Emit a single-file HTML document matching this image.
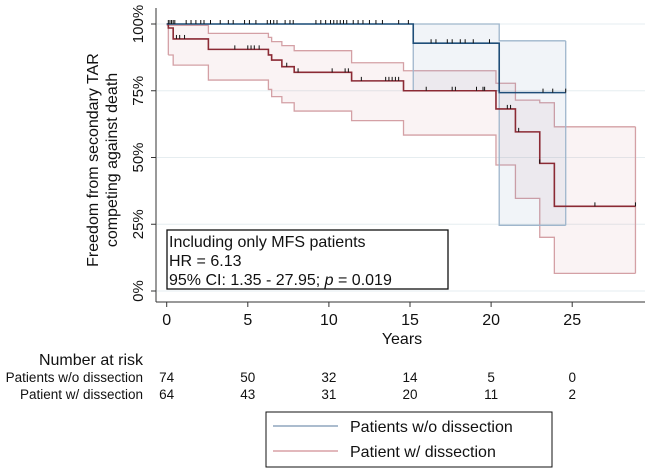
<!DOCTYPE html>
<html><head><meta charset="utf-8">
<style>
body{margin:0;background:#fff;}
svg{display:block;font-family:"Liberation Sans",Arial,sans-serif;}
</style></head>
<body>
<svg id="chart" width="650" height="471" viewBox="0 0 650 471">
<g id="grid"></g>
<g id="bands"></g>
<g id="lines"></g>
<g id="axes"></g>
<text transform="translate(102,160) rotate(-90)" text-anchor="middle" font-size="16" fill="#111"><tspan x="0" dy="-4">Freedom from secondary TAR</tspan><tspan x="0" dy="19">competing against death</tspan></text>
<text x="402" y="344" text-anchor="middle" font-size="16" fill="#111">Years</text>
<g>
<rect x="167" y="230" width="281" height="59" fill="#fff" stroke="#111" stroke-width="1.3"/>
<text x="169" y="247" font-size="16" fill="#111">Including only MFS patients</text>
<text x="169" y="266" font-size="16" fill="#111">HR = 6.13</text>
<text x="169" y="285" font-size="16" fill="#111">95% CI: 1.35 - 27.95; <tspan font-style="italic">p</tspan> = 0.019</text>
</g>
<text x="143" y="365" text-anchor="end" font-size="16" fill="#111">Number at risk</text>
<g id="risk"></g>
<g>
<rect x="266" y="412" width="286" height="55" fill="#fff" stroke="#111" stroke-width="1"/>
<line x1="273" y1="426" x2="338" y2="426" stroke="#8fa6bd" stroke-width="1.6"/>
<text x="350" y="432" font-size="16" fill="#111">Patients w/o dissection</text>
<line x1="273" y1="451" x2="338" y2="451" stroke="#d9a0a6" stroke-width="1.6"/>
<text x="350" y="457" font-size="16" fill="#111">Patient w/ dissection</text>
</g>
</svg>
<script>
const xTicks=[0,5,10,15,20,25];
const yTicks=[0,25,50,75,100];
const blueT=[0,15.2,20.5,24.6];
const blueS=[100,92.8,74.3,74.3];
const blueUpT=[0,20.5,24.6];
const blueUp=[100,93.7,93.7];
const blueLoT=[15.2,20.5,24.6];
const blueLo=[75,24.6,24.6];
const redT=[0,0.1,0.4,2.57,6.27,6.47,7.1,7.86,11.4,14.6,20.3,21.5,23.0,23.9,28.9];
const redS=[100,98.5,94.4,90.5,88.4,86.5,84,81.9,78.7,75,68.2,59.6,47.8,31.7,31.7];
const redUpT=[0,2.57,6.27,6.47,7.1,7.86,11.4,14.6,20.3,21.5,23.0,23.9,28.9];
const redUp=[99.5,96.5,95,93.4,91.9,90,85.5,82.5,77.8,71.5,70.5,61.5,61.5];
const redLoT=[0.1,0.4,2.57,6.27,6.47,7.1,7.86,11.4,14.6,20.3,21.5,23.0,23.9,28.9];
const redLo=[88.4,84.6,79,75.5,72.8,70.5,67.4,63.8,58.4,47.2,34.7,20.1,6.6,6.6];
const blueCens=[0.1,0.2,0.3,0.4,0.5,1.2,1.5,1.8,2.1,2.3,2.7,3.3,3.8,4.1,4.8,5.1,5.5,6.2,6.4,6.6,6.8,7.3,7.6,7.8,9.2,9.5,9.8,10.1,10.3,10.5,10.7,10.9,11.1,11.5,11.8,12.1,12.5,12.9,13.3,14.3,14.9,16.3,16.6,17.3,17.6,18.1,18.4,18.9,19.9,23.2,23.8,24.6];
const redCens=[0.6,0.8,1.1,4.2,5.0,5.2,5.4,5.7,7.4,8.1,10.2,11.0,11.2,12.0,13.5,13.7,13.9,14.1,14.3,16.0,17.6,17.8,19.1,19.5,19.6,21.0,21.2,21.7,23.0,26.4,28.9];
const riskRows=["Patients w/o dissection","Patient w/ dissection"];
const riskWithout=[74,50,32,14,5,0];
const riskWith=[64,43,31,20,11,2];

const X=t=>166.7+t*16.22;
const Y=v=>291-v*2.67;
const NS="http://www.w3.org/2000/svg";
function mk(tag,attrs,parent){const e=document.createElementNS(NS,tag);for(const k in attrs)e.setAttribute(k,attrs[k]);parent.appendChild(e);return e;}
function stepPath(ts,vs,endT){let d="M"+X(ts[0])+","+Y(vs[0]);for(let i=1;i<ts.length;i++){d+=" H"+X(ts[i])+" V"+Y(vs[i]);}if(endT!==undefined)d+=" H"+X(endT);return d;}
function stepPts(ts,vs){const p=[];for(let i=0;i<ts.length;i++){p.push([ts[i],vs[i]]);if(i+1<ts.length)p.push([ts[i+1],vs[i]]);}return p;}
function valAt(ts,vs,t){let v=vs[0];for(let i=0;i<ts.length;i++){if(ts[i]<=t)v=vs[i];}return v;}

const grid=document.getElementById('grid');
yTicks.forEach(v=>{const l=mk('line',{x1:157,x2:645,y1:Y(v),y2:Y(v),stroke:'#e6edf0','stroke-width':1},grid);

});

const bands=document.getElementById('bands');
function band(upT,up,loT,lo,fill,stroke,name){
 const t0=loT[0],t1=loT[loT.length-1];
 const upPts=stepPts(upT,up).filter(p=>p[0]>=t0&&p[0]<=t1);
 upPts.unshift([t0,valAt(upT,up,t0)]);
 const loPts=stepPts(loT,lo).reverse();
 const pts=upPts.concat(loPts).map(p=>X(p[0])+","+Y(p[1])).join(" ");
 const pg=mk('polygon',{points:pts,fill:fill,stroke:'none'},bands);
 
 
 const u=mk('path',{d:stepPath(upT,up),fill:'none',stroke:stroke,'stroke-width':1.3},bands);
 
 
 const l=mk('path',{d:stepPath(loT,lo),fill:'none',stroke:stroke,'stroke-width':1.3},bands);
 
 
 const e1=mk('line',{x1:X(t1),x2:X(t1),y1:Y(valAt(upT,up,t1)),y2:Y(lo[lo.length-1]),stroke:stroke,'stroke-width':1.3},bands);
 
 
 const e0=mk('line',{x1:X(t0),x2:X(t0),y1:Y(valAt(upT,up,t0)),y2:Y(lo[0]),stroke:stroke,'stroke-width':1.3},bands);
 
 
}
band(redUpT,redUp,redLoT,redLo,'rgba(200,120,130,0.09)','#d4a0a5','with-dissection');
band(blueUpT,blueUp,blueLoT,blueLo,'rgba(120,150,185,0.1)','#9fb6cc','without-dissection');

const lines=document.getElementById('lines');
const rp=mk('path',{d:stepPath(redT,redS),fill:'none',stroke:'#8b2a34','stroke-width':1.6},lines);


const bp=mk('path',{d:stepPath(blueT,blueS),fill:'none',stroke:'#1f4e79','stroke-width':1.6},lines);


blueCens.forEach(t=>{const y=Y(valAt(blueT,blueS,t));const c=mk('line',{x1:X(t),x2:X(t),y1:y-4,y2:y,stroke:'#111','stroke-width':1},lines);

});
redCens.forEach(t=>{const y=Y(valAt(redT,redS,t));const c=mk('line',{x1:X(t),x2:X(t),y1:y-4,y2:y,stroke:'#111','stroke-width':1},lines);

});

const axes=document.getElementById('axes');
mk('line',{x1:156,x2:156,y1:8,y2:302,stroke:'#333','stroke-width':1},axes);
mk('line',{x1:156,x2:645,y1:302,y2:302,stroke:'#333','stroke-width':1},axes);
yTicks.forEach(v=>{mk('line',{x1:151,x2:156,y1:Y(v),y2:Y(v),stroke:'#333'},axes);
const t=mk('text',{transform:`translate(143,${Y(v)}) rotate(-90)`,'text-anchor':'middle','font-size':15,fill:'#111'},axes);t.textContent=v+'%';

});
xTicks.forEach(v=>{mk('line',{x1:X(v),x2:X(v),y1:302,y2:307,stroke:'#333'},axes);
const t=mk('text',{x:X(v),y:325,'text-anchor':'middle','font-size':16,fill:'#111'},axes);t.textContent=v;

});

const risk=document.getElementById('risk');
[riskWithout,riskWith].forEach((row,i)=>{const y=382+i*17;
const lab=mk('text',{x:143,y:y,'text-anchor':'end','font-size':13.5,fill:'#111'},risk);lab.textContent=riskRows[i];


row.forEach((n,j)=>{const t=mk('text',{x:X(xTicks[j]),y:y,'text-anchor':'middle','font-size':13.5,fill:'#111'},risk);t.textContent=n;

});});
</script>
</body></html>
